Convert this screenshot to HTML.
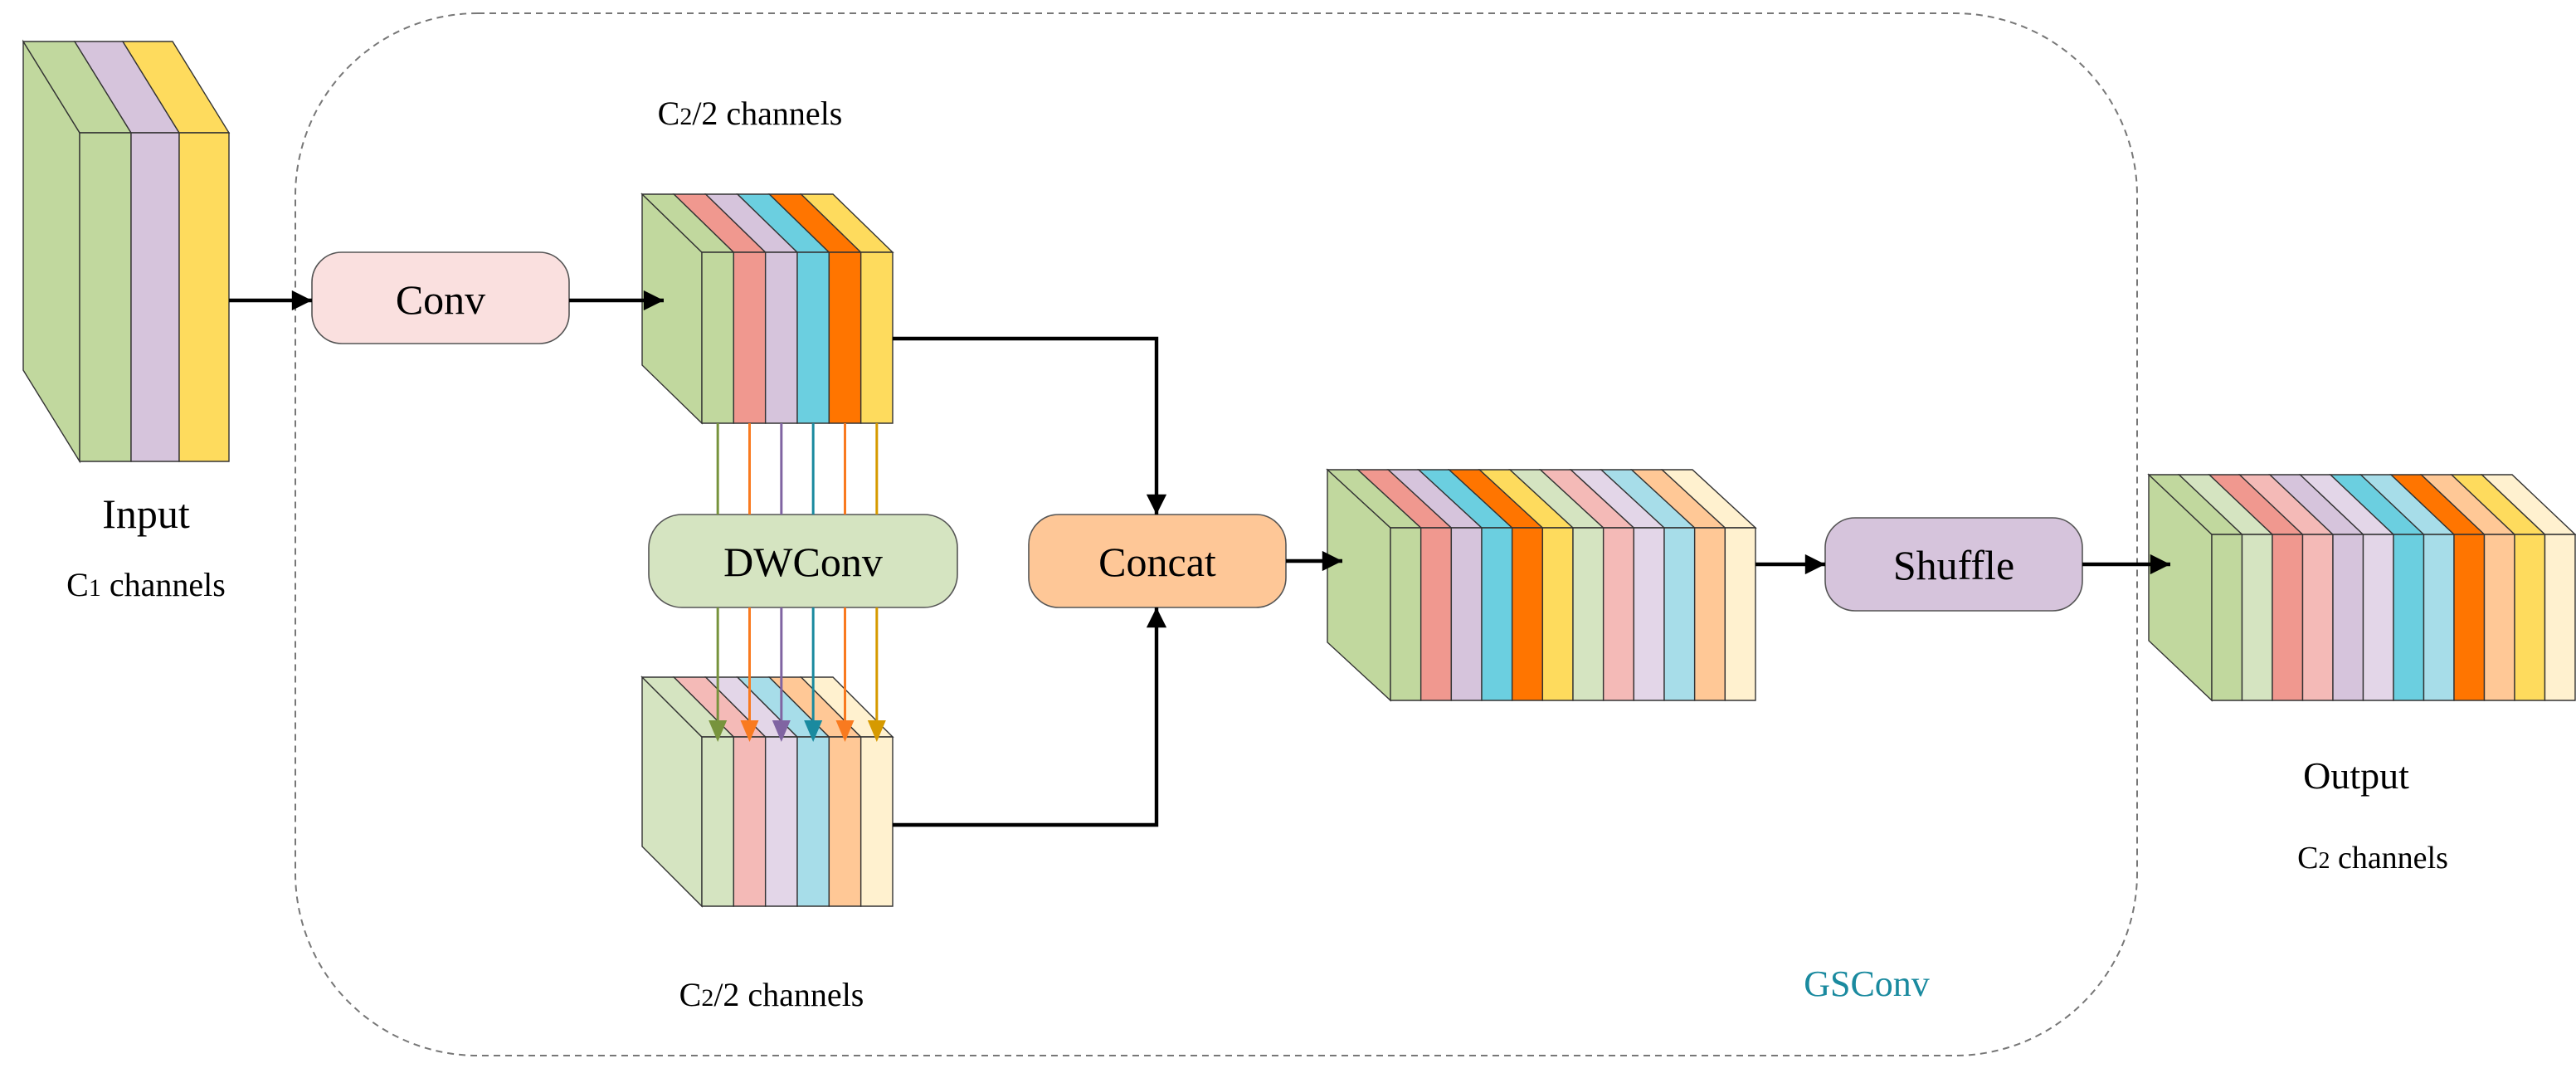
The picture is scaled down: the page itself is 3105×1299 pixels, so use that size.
<!DOCTYPE html>
<html><head><meta charset="utf-8">
<style>
html,body{margin:0;padding:0;background:#fff;}
svg{display:block;}
text{font-family:"Liberation Serif",serif;fill:#000;}
</style></head>
<body>
<svg id="s" width="3105" height="1299" viewBox="0 0 1552.5 649.5" xmlns="http://www.w3.org/2000/svg">
<defs>
<marker id="ah" viewBox="0 0 10 10" refX="10" refY="5" markerWidth="6" markerHeight="5.5" orient="auto" markerUnits="strokeWidth"><path d="M0,0 L10,5 L0,10 z" fill="#000"/></marker>
</defs>
<rect x="178" y="8" width="1110" height="628" rx="110" ry="110" fill="none" stroke="#777" stroke-width="1" stroke-dasharray="4,3"/>
<g id="cubes"></g>

<rect x="188" y="152" width="155" height="55" rx="18" fill="#fae0df" stroke="#555" stroke-width="0.8"/>
<text x="265.5" y="189" font-size="25" text-anchor="middle">Conv</text>
<rect x="391" y="310" width="186" height="56" rx="20" fill="#d5e4c1" stroke="#555" stroke-width="0.8"/>
<text x="484" y="347" font-size="25" text-anchor="middle">DWConv</text>
<rect x="620" y="310" width="155" height="56" rx="18" fill="#fec797" stroke="#555" stroke-width="0.8"/>
<text x="697.5" y="347" font-size="25" text-anchor="middle">Concat</text>
<rect x="1100" y="312" width="155" height="56" rx="18" fill="#d6c4dc" stroke="#555" stroke-width="0.8"/>
<text x="1177.5" y="349" font-size="25" text-anchor="middle">Shuffle</text>

<g stroke="#000" stroke-width="2.2" fill="none">
<line x1="138" y1="181" x2="188" y2="181" marker-end="url(#ah)"/>
<line x1="343" y1="181" x2="400" y2="181" marker-end="url(#ah)"/>
<polyline points="538,204 697,204 697,310" marker-end="url(#ah)"/>
<polyline points="538,497 697,497 697,366" marker-end="url(#ah)"/>
<line x1="775" y1="338" x2="809" y2="338" marker-end="url(#ah)"/>
<line x1="1058" y1="340" x2="1100" y2="340" marker-end="url(#ah)"/>
<line x1="1255" y1="340" x2="1308" y2="340" marker-end="url(#ah)"/>
</g>
<g id="vlines"></g>

<text x="88" y="318" font-size="25" text-anchor="middle">Input</text>
<text x="88" y="359" font-size="20" text-anchor="middle">C<tspan font-size="15">1</tspan> channels</text>
<text x="452" y="75" font-size="20" text-anchor="middle">C<tspan font-size="15">2</tspan>/2 channels</text>
<text x="465" y="606" font-size="20" text-anchor="middle">C<tspan font-size="15">2</tspan>/2 channels</text>
<text x="1125" y="600" font-size="22" text-anchor="middle" style="fill:#1a8a9f">GSConv</text>
<text x="1420" y="475" font-size="23" text-anchor="middle">Output</text>
<text x="1430" y="523" font-size="19" text-anchor="middle">C<tspan font-size="14">2</tspan> channels</text>
</svg>
<script>
var NS="http://www.w3.org/2000/svg";
var g=document.getElementById('cubes');
function poly(pts,fill,par){var p=document.createElementNS(NS,'polygon');p.setAttribute('points',pts.map(function(a){return a[0]+','+a[1]}).join(' '));p.setAttribute('fill',fill);p.setAttribute('stroke','#333');p.setAttribute('stroke-width','0.7');(par||g).appendChild(p);}
function cube(x0,y0,y1,dx,dy,widths,colors){
  poly([[x0-dx,y0-dy],[x0,y0],[x0,y1],[x0-dx,y1-dy]],colors[0]);
  var x=x0;
  for(var i=0;i<widths.length;i++){
    var w=widths[i];
    poly([[x,y0],[x+w,y0],[x+w-dx,y0-dy],[x-dx,y0-dy]],colors[i]);
    poly([[x,y0],[x+w,y0],[x+w,y1],[x,y1]],colors[i]);
    x+=w;
  }
}
function eq(n,total){var a=[];for(var i=0;i<n;i++)a.push(total/n);return a;}
var G='#c1d89e',S='#f0988f',L='#d6c4dc',C='#6bcfe0',O='#ff7500',Y='#fedb5d';
var G2='#d5e4c1',S2='#f4bab7',L2='#e3d6e8',C2='#a7dde9',O2='#ffc896',Y2='#fff1cf';
cube(48,80,278,34,55,[31,29,30],[G,L,Y]);
cube(423,152,255,36,35,eq(6,115),[G,S,L,C,O,Y]);
cube(423,444,546,36,36,eq(6,115),[G2,S2,L2,C2,O2,Y2]);
cube(838,318,422,38,35,eq(12,220),[G,S,L,C,O,Y,G2,S2,L2,C2,O2,Y2]);
cube(1333,322,422,38,36,eq(12,219),[G,G2,S,S2,L,L2,C,C2,O,O2,Y,Y2]);
var vg=document.getElementById('vlines');
var lc=['#77933c','#f97a1f','#8064a2','#1a8a9f','#f97a1f','#d69a00'];
for(var i=0;i<6;i++){
  var cx=423+115/6*(i+0.5);
  var segs=[[255,310],[366,438]];
  segs.forEach(function(s){var l=document.createElementNS(NS,'line');l.setAttribute('x1',cx);l.setAttribute('x2',cx);l.setAttribute('y1',s[0]);l.setAttribute('y2',s[1]);l.setAttribute('stroke',lc[i]);l.setAttribute('stroke-width','1.5');vg.appendChild(l);});
  poly([[cx-5.5,434],[cx+5.5,434],[cx,447]],lc[i],vg);
  vg.lastChild.setAttribute('stroke','none');
}
</script>
</body></html>
